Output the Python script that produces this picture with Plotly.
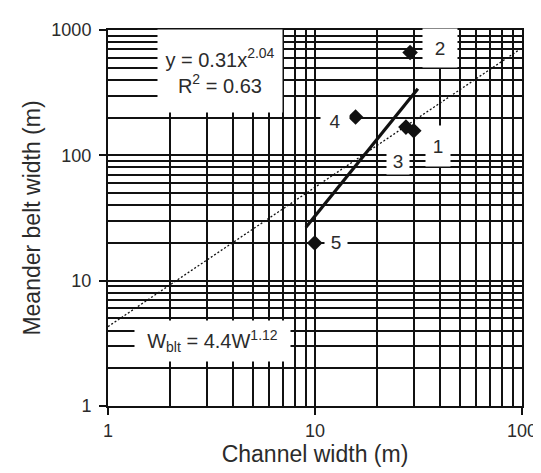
import math
import plotly.graph_objects as go

# Data
site_labels = ["1", "2", "3", "4", "5"]
channel_width = [30.0, 28.8, 27.5, 15.7, 9.97]
belt_width = [157, 662, 168, 202, 20.0]

# Power-law fit y = 0.31x^2.04, drawn between its end points
fit_x = [9.04, 31.4]
fit_y = [26.7, 340]

# Reference relation W_blt = 4.4W^1.12, end points
ref_x = [1, 100]
ref_y = [4.3, 720]

x_major = [1, 10, 100]
x_major_text = ["1", "10", "100"]
y_major = [1, 10, 100, 1000]
y_major_text = ["1", "10", "100", "1000"]
x_minor = [m * d for d in (1, 10) for m in range(2, 10)]
y_minor = [m * d for d in (1, 10, 100) for m in range(2, 10)]

INK = "#111111"
TXT = "#2b2b2b"
FONT = "Liberation Sans, Arial, sans-serif"

fig = go.Figure()

fig.add_trace(go.Scatter(
    x=ref_x, y=ref_y, mode="lines",
    line=dict(color=INK, width=1.3, dash="2px,2px"),
    hoverinfo="skip", showlegend=False))

fig.add_trace(go.Scatter(
    x=fit_x, y=fit_y, mode="lines",
    line=dict(color=INK, width=3.2),
    hoverinfo="skip", showlegend=False))

fig.add_trace(go.Scatter(
    x=channel_width, y=belt_width, mode="markers",
    marker=dict(symbol="diamond", size=12, color=INK),
    showlegend=False))

# label boxes (white backgrounds interrupt the grid), shifts in pixels
label_style = {
    "1": dict(xshift=24, yshift=-15, width=24, height=40),
    "2": dict(xshift=30, yshift=4, width=34, height=38),
    "3": dict(xshift=-8, yshift=-34, width=22, height=26),
    "4": dict(xshift=-21, yshift=-4, width=28, height=26),
    "5": dict(xshift=21, yshift=1, width=22, height=22),
}
for lab, xv, yv in zip(site_labels, channel_width, belt_width):
    st = label_style[lab]
    # annotations on log axes are positioned in log10 units
    fig.add_annotation(
        x=math.log10(xv), y=math.log10(yv), xref="x", yref="y",
        text=lab, showarrow=False,
        xanchor="center", yanchor="middle",
        xshift=st["xshift"], yshift=st["yshift"],
        width=st["width"], height=st["height"],
        font=dict(family=FONT, size=19, color=TXT),
        bgcolor="white", borderpad=0)

fig.add_annotation(
    xref="paper", yref="paper", x=0.271, y=0.892,
    xanchor="center", yanchor="middle",
    text="y = 0.31x<sup>2.04</sup><br>R<sup>2</sup> = 0.63",
    showarrow=False, align="center", width=124, height=82,
    font=dict(family=FONT, size=20, color=TXT),
    bgcolor="white", borderpad=0)

fig.add_annotation(
    xref="paper", yref="paper", x=0.252, y=0.174,
    xanchor="center", yanchor="middle",
    text="W<sub>blt</sub> = 4.4W<sup>1.12</sup>",
    showarrow=False, width=155, height=40,
    font=dict(family=FONT, size=20, color=TXT),
    bgcolor="white", borderpad=0)

axis_common = dict(
    type="log", showline=True, linecolor=INK, linewidth=2, mirror=True,
    showgrid=True, gridcolor=INK, gridwidth=1.6,
    ticks="outside", ticklen=7, tickcolor=INK, tickwidth=1.5,
    tickfont=dict(family=FONT, size=18, color=TXT),
    zeroline=False,
)

fig.update_xaxes(
    **axis_common, range=[0, 2],
    tickmode="array", tickvals=x_major, ticktext=x_major_text,
    minor=dict(tickmode="array", tickvals=x_minor, showgrid=True,
               gridcolor=INK, gridwidth=1.6, ticks=""),
    title=dict(text="Channel width (m)", standoff=0,
               font=dict(family=FONT, size=23, color=TXT)))

fig.update_yaxes(
    **axis_common, range=[0, 3],
    tickmode="array", tickvals=y_major, ticktext=y_major_text,
    ticklabelstandoff=4,
    minor=dict(tickmode="array", tickvals=y_minor, showgrid=True,
               gridcolor=INK, gridwidth=1.6, ticks=""),
    title=dict(text="Meander belt width (m)", standoff=4,
               font=dict(family=FONT, size=23, color=TXT)))

fig.update_layout(
    width=541, height=473,
    margin=dict(l=100, r=17, t=18, b=75),
    paper_bgcolor="white", plot_bgcolor="white",
    font=dict(family=FONT, color=TXT),
)

fig.write_html("out.html")
